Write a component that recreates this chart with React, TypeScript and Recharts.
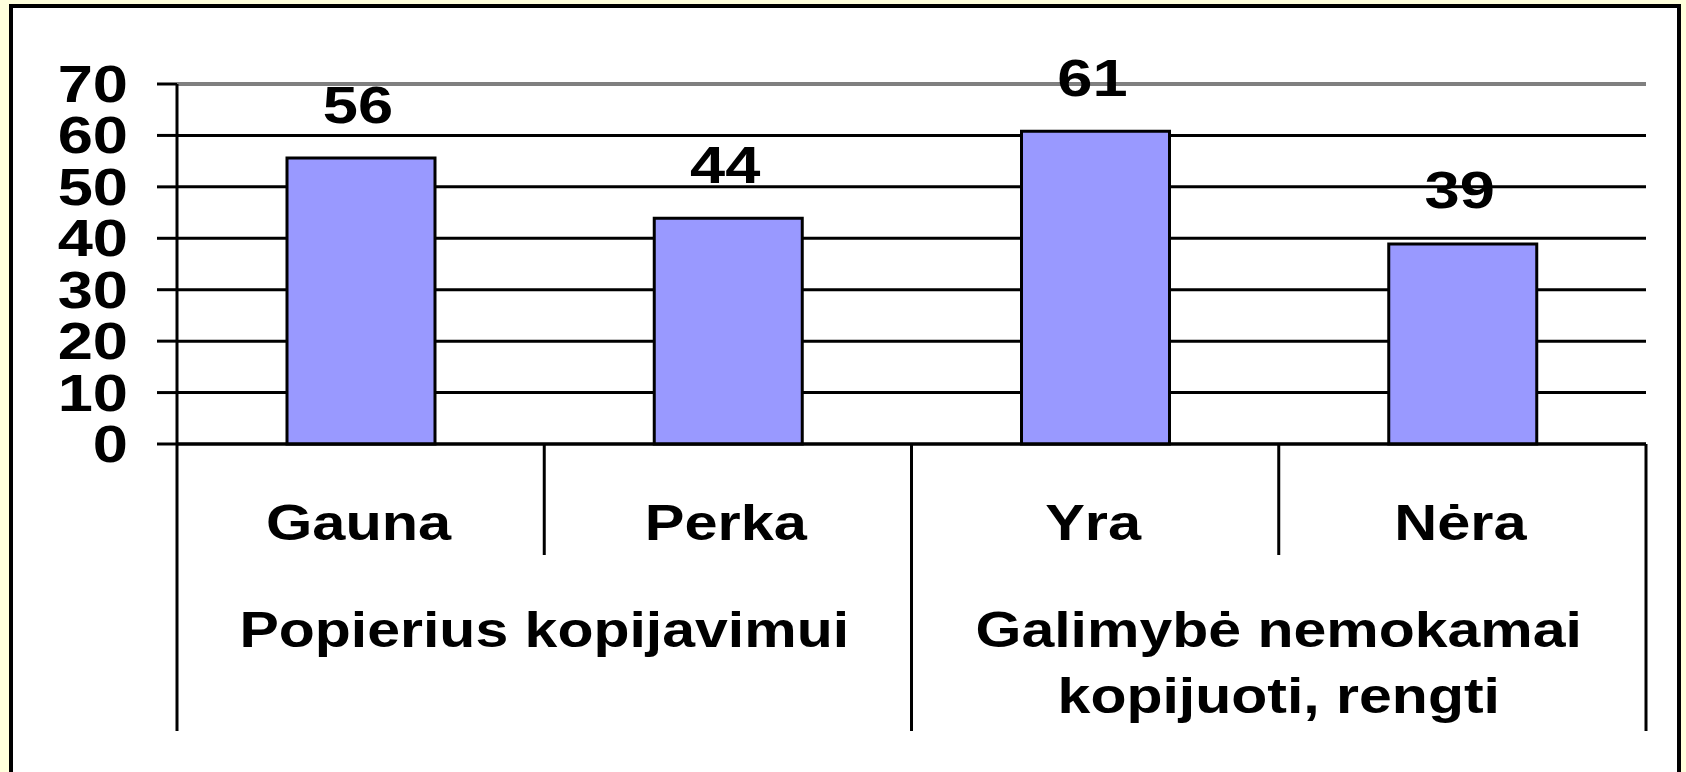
import React from 'react';
import { BarChart, Bar, XAxis, YAxis, CartesianGrid, ReferenceLine, LabelList } from 'recharts';

const categories = ['Gauna', 'Perka', 'Yra', 'Nėra'];
const values = [55.6, 43.9, 60.8, 38.9];
const groupOf = [0, 0, 1, 1];
const groupLabels = [['Popierius kopijavimui'], ['Galimybė nemokamai', 'kopijuoti, rengti']];
const yTicks = [0, 10, 20, 30, 40, 50, 60, 70];

const data = categories.map((c, i) => ({ cat: c, value: values[i] }));

const W = 1686;
const H = 772;
const M = { top: 84, right: 40, bottom: 41, left: 0 };
const Y_W = 177;
const X_H = 287;
const PLOT_LEFT = M.left + Y_W;
const PLOT_RIGHT = W - M.right;
const PLOT_W = PLOT_RIGHT - PLOT_LEFT;
const PLOT_BOTTOM = H - M.bottom - X_H;
const FONT = '"Liberation Sans", Arial, sans-serif';
const GROUP_BASELINE = 647;
const GROUP_LINE_GAP = 66;

const YTick = (p: any) => (
  <text
    transform={`translate(128,${p.y}) scale(1.24,1)`}
    textAnchor="end"
    dy={18}
    fontSize={51}
    fontWeight="bold"
    fontFamily={FONT}
    fill="#000"
  >
    {p.payload.value}
  </text>
);

const XTick = (p: any) => {
  const i = categories.indexOf(p.payload.value);
  const band = PLOT_W / categories.length;
  const x = p.x;
  const left = x - band / 2;
  const isGroupStart = i === 0 || groupOf[i] !== groupOf[i - 1];
  const isLast = i === categories.length - 1;
  const els: any[] = [];
  els.push(
    <line key="l" x1={left} x2={left} y1={PLOT_BOTTOM} y2={isGroupStart ? 731 : 555} stroke="#000" strokeWidth={3} />
  );
  if (isLast) {
    els.push(<line key="r" x1={left + band} x2={left + band} y1={PLOT_BOTTOM} y2={731} stroke="#000" strokeWidth={3} />);
  }
  els.push(
    <text
      key="t"
      transform={`translate(${x - 2},${PLOT_BOTTOM + 96}) scale(1.19,1)`}
      textAnchor="middle"
      fontSize={50}
      fontWeight="bold"
      fontFamily={FONT}
      fill="#000"
    >
      {p.payload.value}
    </text>
  );
  if (isGroupStart) {
    const g = groupOf[i];
    const span = groupOf.filter((v) => v === g).length;
    const cx = left + (span * band) / 2;
    groupLabels[g].forEach((line, k) => {
      els.push(
        <text
          key={'g' + k}
          transform={`translate(${cx},${GROUP_BASELINE + k * GROUP_LINE_GAP}) scale(1.18,1)`}
          textAnchor="middle"
          fontSize={50}
          fontWeight="bold"
          fontFamily={FONT}
          fill="#000"
        >
          {line}
        </text>
      );
    });
  }
  return <g>{els}</g>;
};

const ValueLabel = (p: any) => {
  const cx = p.x + p.width / 2 - 3;
  return (
    <text
      transform={`translate(${cx},${p.y - 35.5}) scale(1.24,1)`}
      textAnchor="middle"
      fontSize={51}
      fontWeight="bold"
      fontFamily={FONT}
      fill="#000"
    >
      {Math.round(p.value)}
    </text>
  );
};

export default function App() {
  return (
    <div
      style={{
        position: 'absolute',
        left: 0,
        top: 0,
        width: W,
        height: H,
        overflow: 'hidden',
        background: '#FFFFDC',
      }}
    >
      <div
        style={{
          position: 'absolute',
          left: 9,
          top: 4,
          width: 1672,
          height: 830,
          boxSizing: 'border-box',
          border: '4px solid #000',
          background: '#FFFFFF',
        }}
      />
      <div style={{ position: 'absolute', left: 0, top: 0 }}>
        <BarChart width={W} height={H} data={data} margin={M}>
          <CartesianGrid horizontal vertical={false} stroke="#000" strokeWidth={3} />
          <ReferenceLine y={70} stroke="#808080" strokeWidth={3} />
          <XAxis
            dataKey="cat"
            height={X_H}
            interval={0}
            tickLine={false}
            axisLine={{ stroke: '#000', strokeWidth: 3 }}
            tick={<XTick />}
          />
          <YAxis
            width={Y_W}
            domain={[0, 70]}
            ticks={yTicks}
            interval={0}
            tickSize={20}
            tickLine={{ stroke: '#000', strokeWidth: 3 }}
            axisLine={{ stroke: '#000', strokeWidth: 3 }}
            tick={<YTick />}
          />
          <YAxis
            yAxisId="r"
            orientation="right"
            width={0}
            domain={[0, 70]}
            tick={false}
            tickLine={false}
            axisLine={{ stroke: '#808080', strokeWidth: 3 }}
          />
          <Bar dataKey="value" fill="#9999FF" stroke="#000" strokeWidth={3} barSize={148} isAnimationActive={false}>
            <LabelList dataKey="value" content={<ValueLabel />} />
          </Bar>
        </BarChart>
      </div>
    </div>
  );
}
